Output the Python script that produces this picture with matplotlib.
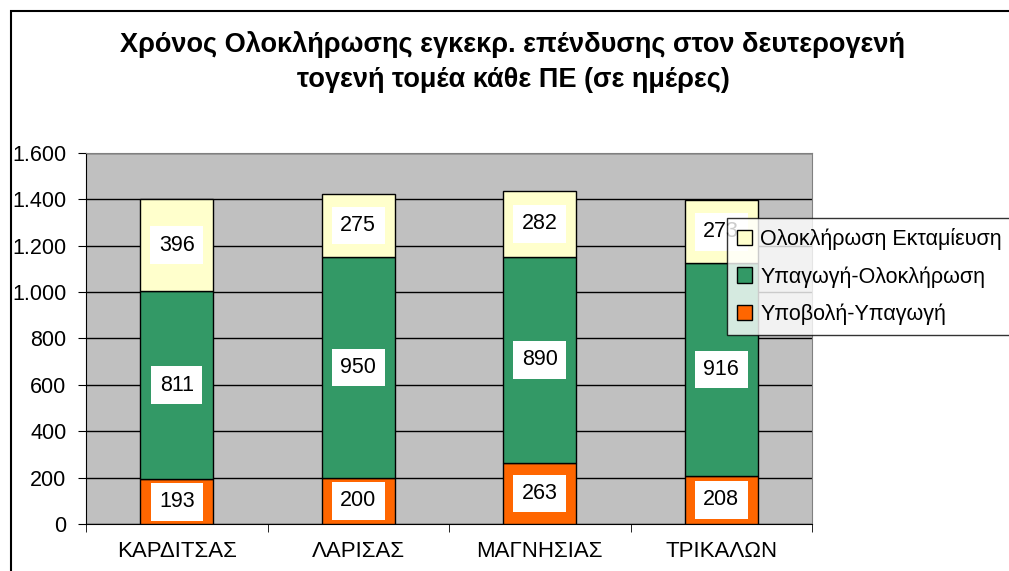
import numpy as np
import matplotlib.pyplot as plt
from matplotlib.patches import Rectangle

plt.rcParams['font.family'] = ['Liberation Sans', 'DejaVu Sans']

regions = ['ΚΑΡΔΙΤΣΑΣ', 'ΛΑΡΙΣΑΣ', 'ΜΑΓΝΗΣΙΑΣ', 'ΤΡΙΚΑΛΩΝ']
submit_to_incl = [193, 200, 263, 208]
incl_to_compl = [811, 950, 890, 916]
compl_disb = [396, 275, 282, 273]
series_names = ['Υποβολή-Υπαγωγή', 'Υπαγωγή-Ολοκλήρωση', 'Ολοκλήρωση Εκταμίευση']
colors = ['#ff6600', '#339966', '#ffffcc']
yticks = [0, 200, 400, 600, 800, 1000, 1200, 1400, 1600]
ytick_labels = ['0', '200', '400', '600', '800', '1.000', '1.200', '1.400', '1.600']

fig = plt.figure(figsize=(10.09, 5.71), dpi=100)
# chart border (right and bottom edges fall outside the image)
fig.patches.append(Rectangle((11/1009, -0.1), 1.1, 1.1 - 11/571,
                             transform=fig.transFigure, fill=False,
                             edgecolor='black', linewidth=1.5))
ax = fig.add_axes([86/1009, 1 - 524/571, (812-86)/1009, (524-153)/571])
ax.set_facecolor('#c0c0c0')

x = np.arange(len(regions))
bottom = np.zeros(len(regions))
handles = []
for vals, col, name in zip([submit_to_incl, incl_to_compl, compl_disb], colors, series_names):
    b = ax.bar(x, vals, width=0.4, bottom=bottom, color=col, edgecolor='black',
               linewidth=1, label=name, zorder=3)
    handles.append(b)
    for xi, v, bt in zip(x, vals, bottom):
        ax.text(xi, bt + v / 2, str(v), ha='center', va='center', fontsize=15.5,
                zorder=4, bbox=dict(facecolor='white', edgecolor='none', pad=6))
    bottom += np.array(vals)

ax.set_xlim(-0.5, 3.5)
ax.set_ylim(0, 1600)
ax.set_yticks(yticks)
ax.set_yticklabels(ytick_labels, fontsize=15.5)
ax.set_xticks(x)
ax.set_xticklabels(regions, fontsize=16)
ax.tick_params(axis='x', length=0, pad=12)
ax.set_xticks(np.arange(-0.5, 4, 1), minor=True)
ax.tick_params(axis='x', which='minor', length=6, direction='out')
ax.tick_params(axis='y', length=6, direction='out', pad=8)
ax.yaxis.grid(True, color='black', linewidth=1, zorder=0)
ax.set_axisbelow(True)
for s in ['left', 'bottom']:
    ax.spines[s].set_color('black')
for s in ['top', 'right']:
    ax.spines[s].set_color('#808080')

leg = fig.legend(handles[::-1], series_names[::-1], loc='upper left',
                 bbox_to_anchor=(727/1009, 1 - 218/571), fontsize=15.5,
                 frameon=True, fancybox=False, edgecolor='black',
                 handlelength=0.7, handleheight=0.7, handletextpad=0.4,
                 borderpad=0.45, labelspacing=0.76, borderaxespad=0)
leg.get_frame().set_linewidth(1)

fig.text(513/1009, 1 - 45/571, 'Χρόνος Ολοκλήρωσης εγκεκρ. επένδυσης στον δευτερογενή',
         ha='center', va='center', fontsize=19.5, fontweight='bold')
fig.text(513/1009, 1 - 80/571, 'τογενή τομέα κάθε ΠΕ (σε ημέρες)',
         ha='center', va='center', fontsize=19.5, fontweight='bold')

fig.savefig('out.png', dpi=100)
